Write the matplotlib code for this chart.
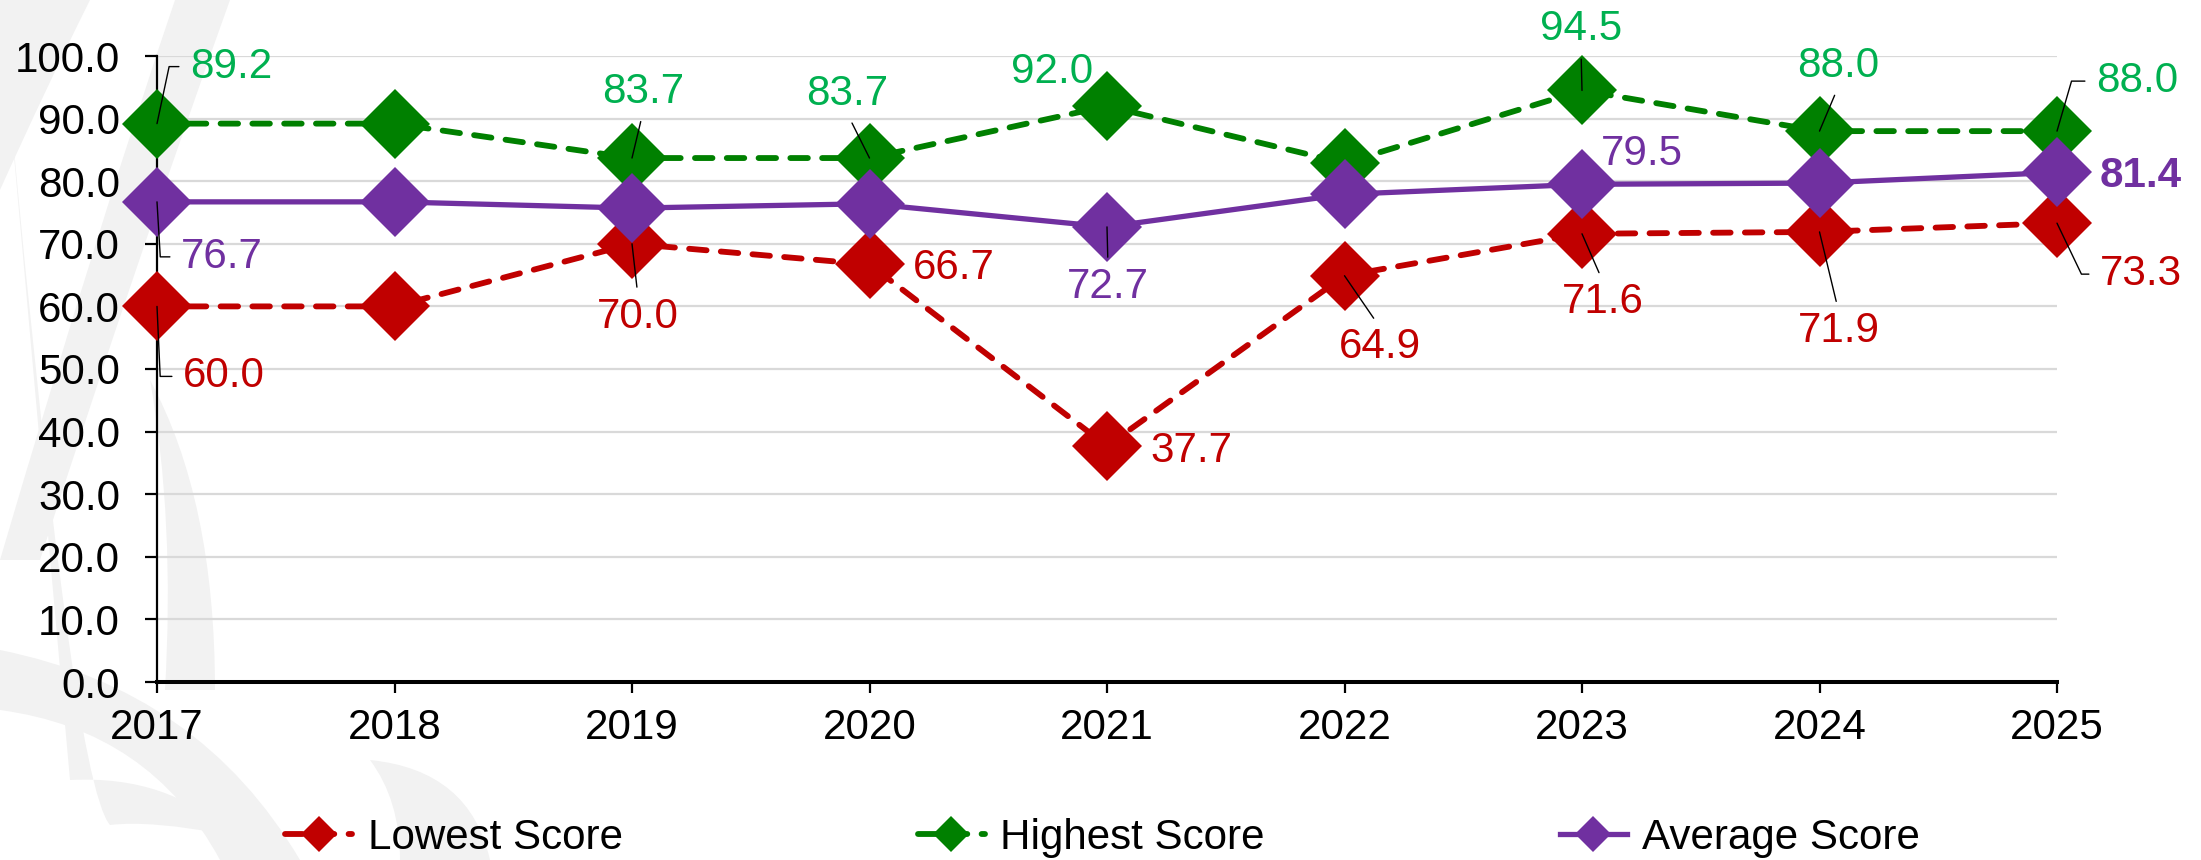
import matplotlib
matplotlib.use("Agg")
import matplotlib.pyplot as plt
from matplotlib.path import Path
from matplotlib.patches import PathPatch

# ---------------- data ----------------
years = ["2017", "2018", "2019", "2020", "2021", "2022", "2023", "2024", "2025"]
lowest = [60.0, 60.0, 70.0, 66.7, 37.7, 64.9, 71.6, 71.9, 73.3]
highest = [89.2, 89.2, 83.7, 83.7, 92.0, 82.9, 94.5, 88.0, 88.0]
average = [76.7, 76.7, 75.7, 76.4, 72.7, 77.9, 79.5, 79.7, 81.4]
series_names = ["Lowest Score", "Highest Score", "Average Score"]
y_ticks = [0, 10, 20, 30, 40, 50, 60, 70, 80, 90, 100]

# label layout: (dx px, dy px to baseline, ha, leader) ; None = no label
# leader: None, 'above', 'below', or elbow angle (deg)
low_lab = [(26, 81, "left", -87.4), None, (6, 84, "center", "below"), (43, 15, "left", None),
           (43, 16, "left", None), (35, 82, "center", "below"), (21, 79, "center", "below"),
           (19, 110, "center", "below"), (43, 62, "left", -64.4)]
high_lab = [(33, -46, "left", 78.0), None, (11, -55, "center", "above"), (-22, -53, "center", "above"),
            (-55, -23, "center", None), None, (-1, -50, "center", "above"),
            (19, -54, "center", "above"), (39, -39, "left", 73.8)]
avg_lab = [(24, 66, "left", -86.6), None, None, None, (1, 71, "center", "below"), None,
           (60, -19, "center", None), None, (43, 15, "left", None)]

# ---------------- style ----------------
DPI = 100
W, H = 2201, 860
FS = 30.3
plt.rcParams["font.family"] = ["Liberation Sans", "DejaVu Sans"]

c_low, c_high, c_avg = "#C00000", "#008000", "#7030A0"
lab_low, lab_high, lab_avg = "#C00000", "#00B050", "#7030A0"

fig = plt.figure(figsize=(W / DPI, H / DPI), dpi=DPI)
fig.patch.set_facecolor("white")

# faint watermark (background decoration), pixel coords from top-left
wm = "#f2f2f2"
M, L, C, Z = Path.MOVETO, Path.LINETO, Path.CURVE3, Path.CLOSEPOLY
blades = [
    ([(0, 0), (90, 0), (45, 90), (0, 190), (0, 0)], [M, L, C, C, Z]),
    ([(175, 0), (230, 0), (140, 250), (40, 560), (0, 560), (100, 220), (175, 0), (175, 0)],
     [M, L, C, C, L, C, C, Z]),
    ([(150, 380), (215, 500), (215, 690), (165, 690), (175, 520), (150, 380), (150, 380)],
     [M, C, C, L, C, C, Z]),
    ([(0, 650), (200, 690), (300, 860), (220, 860), (150, 730), (0, 710), (0, 650)],
     [M, C, C, L, C, C, Z]),
    ([(370, 760), (470, 770), (490, 860), (400, 860), (400, 800), (370, 760), (370, 760)],
     [M, C, C, L, C, C, Z]),
    ([(70, 780), (170, 775), (230, 835), (150, 820), (110, 825), (70, 780), (70, 780)],
     [M, C, C, C, C, C, Z]),
]
for pts, codes in blades:
    verts = [(px / W, 1 - py / H) for px, py in pts]
    fig.patches.append(PathPatch(Path(verts, codes), transform=fig.transFigure,
                                 facecolor=wm, edgecolor="none", zorder=-5))

ax = fig.add_axes([157 / W, 1 - 682 / H, 1900 / W, 626 / H])
ax.set_zorder(1)
ax.patch.set_alpha(0)
x = list(range(len(years)))

lw = 4.2
ms = 36
dash = (0, (3.0, 2.45))
l1, = ax.plot(x, lowest, color=c_low, lw=lw, ls=dash, dash_capstyle="round",
              marker="D", ms=ms, mfc=c_low, mec=c_low, mew=0, zorder=3, clip_on=False)
l2, = ax.plot(x, highest, color=c_high, lw=lw, ls=dash, dash_capstyle="round",
              marker="D", ms=ms, mfc=c_high, mec=c_high, mew=0, zorder=4, clip_on=False)
l3, = ax.plot(x, average, color=c_avg, lw=3.8, ls="-",
              marker="D", ms=ms, mfc=c_avg, mec=c_avg, mew=0, zorder=5, clip_on=False)

ax.set_xlim(0, len(years) - 1)
ax.set_ylim(0, 100)
ax.set_xticks(x)
ax.set_xticklabels(years)
ax.set_yticks(y_ticks)
ax.set_yticklabels([f"{t:.1f}" for t in y_ticks])
ax.tick_params(axis="y", direction="out", length=8.6, width=1.6, pad=18, labelsize=FS, colors="black")
ax.tick_params(axis="x", direction="out", length=8, width=1.6, pad=11, labelsize=FS, colors="black")
ax.grid(axis="y", color="#d9d9d9", lw=1.6, zorder=0)
ax.set_axisbelow(True)
for sp in ["top", "right"]:
    ax.spines[sp].set_visible(False)
ax.spines["left"].set_linewidth(1.6)
ax.spines["bottom"].set_linewidth(2.9)
ax.spines["bottom"].set_zorder(2.5)

k = 72.0 / DPI


def add_labels(vals, specs, color, bold_last=False):
    for i, (v, sp) in enumerate(zip(vals, specs)):
        if sp is None:
            continue
        dx, dy, ha, leader = sp
        weight = "bold" if (bold_last and i == len(vals) - 1) else "normal"
        kw = dict(xy=(i, v), xytext=(dx * k, -dy * k), textcoords="offset points",
                  ha=ha, va="baseline", fontsize=FS, color=color, fontweight=weight,
                  zorder=8, annotation_clip=False)
        if leader is None:
            ax.annotate(f"{v:.1f}", **kw)
        elif leader == "above":
            ax.annotate(f"{v:.1f}", arrowprops=dict(arrowstyle="-", color="black", lw=1.0,
                                                    shrinkA=5, shrinkB=0, relpos=(0.5, 0.0)), **kw)
        elif leader == "below":
            ax.annotate(f"{v:.1f}", arrowprops=dict(arrowstyle="-", color="black", lw=1.0,
                                                    shrinkA=5, shrinkB=0, relpos=(0.5, 1.0)), **kw)
        else:
            ax.annotate(f"{v:.1f}", arrowprops=dict(arrowstyle="-", color="black", lw=1.0,
                                                    shrinkA=6, shrinkB=0, relpos=(0.0, 0.5),
                                                    connectionstyle=f"angle,angleA=0,angleB={leader},rad=0"),
                        **kw)


add_labels(lowest, low_lab, lab_low)
add_labels(highest, high_lab, lab_high)
add_labels(average, avg_lab, lab_avg, bold_last=True)

fig.legend([l1, l2, l3], series_names, ncol=3, loc="center", bbox_to_anchor=(0.501, 0.0256),
           frameon=False, fontsize=FS, handlelength=1.6, handletextpad=0.37,
           columnspacing=7.0, markerscale=0.5, borderaxespad=0, borderpad=0)

fig.savefig("out.png", dpi=DPI, facecolor="white")
